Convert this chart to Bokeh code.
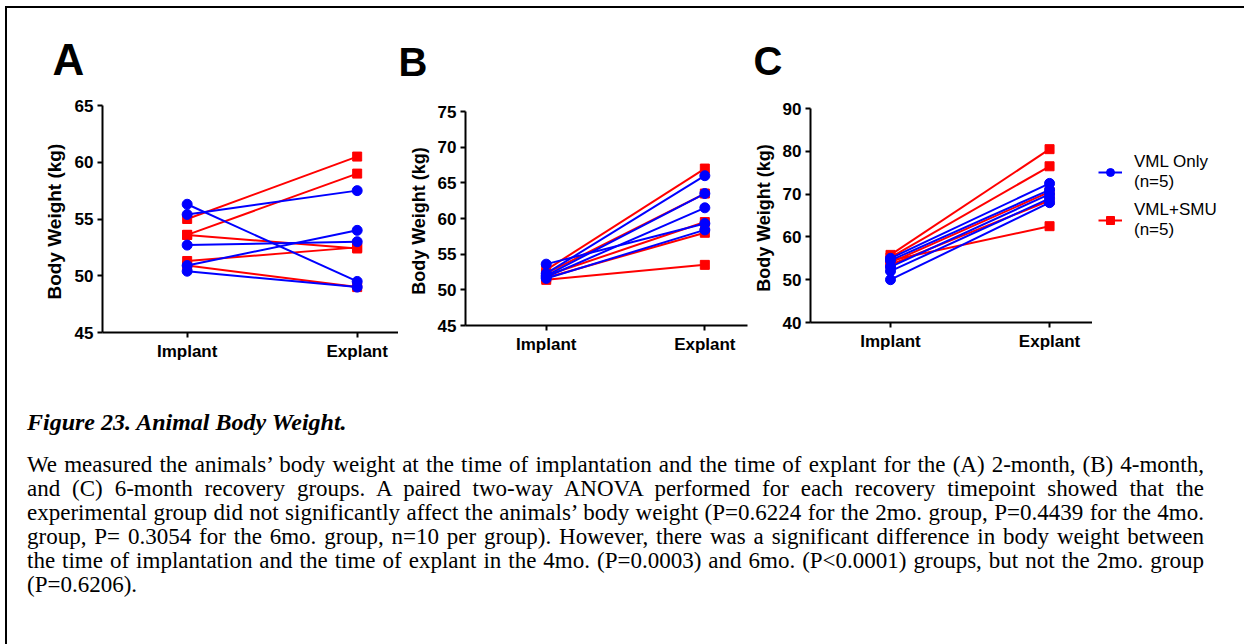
from bokeh.plotting import figure
from bokeh.layouts import row, column
from bokeh.models import (Div, FixedTicker, Range1d, Legend, LegendItem)
from bokeh.embed import file_html
from bokeh.resources import INLINE

# ---------------- data ----------------
timepoints = ["Implant", "Explant"]
group_labels = ["VML Only\n(n=5)", "VML+SMU\n(n=5)"]
panel_letters = ["A", "B", "C"]

# Panel A (2-month)
blue_impl_A = [56.3, 55.4, 52.7, 50.9, 50.4]
blue_expl_A = [49.5, 57.5, 53.0, 54.0, 49.0]
red_impl_A = [55.0, 53.6, 53.6, 51.3, 50.9]
red_expl_A = [60.5, 59.0, 52.4, 52.5, 49.0]
yticks_A = [45, 50, 55, 60, 65]

# Panel B (4-month)
blue_impl_B = [53.6, 52.3, 52.0, 51.8, 51.6]
blue_expl_B = [59.3, 66.0, 63.5, 61.5, 58.4]
red_impl_B = [52.8, 52.3, 52.0, 51.7, 51.4]
red_expl_B = [67.0, 63.5, 59.5, 58.0, 53.5]
yticks_B = [45, 50, 55, 60, 65, 70, 75]

# Panel C (6-month)
blue_impl_C = [55.0, 54.5, 53.0, 52.0, 50.0]
blue_expl_C = [72.5, 71.0, 70.0, 69.0, 68.0]
red_impl_C = [55.8, 55.2, 54.5, 54.0, 53.5]
red_expl_C = [80.5, 76.5, 62.5, 70.5, 68.5]
yticks_C = [40, 50, 60, 70, 80, 90]

caption_title = "Figure 23. Animal Body Weight."
caption_lines = [
    "We measured the animals\u2019 body weight at the time of implantation and the time of explant for the (A) 2-month, (B) 4-month,",
    "and (C) 6-month recovery groups. A paired two-way ANOVA performed for each recovery timepoint showed that the",
    "experimental group did not significantly affect the animals\u2019 body weight (P=0.6224 for the 2mo. group, P=0.4439 for the 4mo.",
    "group, P= 0.3054 for the 6mo. group, n=10 per group). However, there was a significant difference in body weight between",
    "the time of implantation and the time of explant in the 4mo. (P=0.0003) and 6mo. (P&lt;0.0001) groups, but not the 2mo. group",
    "(P=0.6206).",
]

BLUE = "#0000FF"
RED = "#FF0000"
FONT = "Liberation Sans"


def draw_groups(p, bi, be, ri, re):
    red_ml = p.multi_line(xs=[[0, 1] for _ in ri],
                          ys=[[a, b] for a, b in zip(ri, re)],
                          line_color=RED, line_width=2)
    red_sc = p.scatter(x=[0] * len(ri) + [1] * len(re), y=ri + re,
                       marker="square", size=9, color=RED)
    blue_ml = p.multi_line(xs=[[0, 1] for _ in bi],
                           ys=[[a, b] for a, b in zip(bi, be)],
                           line_color=BLUE, line_width=2)
    blue_sc = p.scatter(x=[0] * len(bi) + [1] * len(be), y=bi + be,
                        marker="circle", size=10, color=BLUE)
    return blue_ml, blue_sc, red_ml, red_sc


def make_panel(letter, letter_size, letter_offset, letter_standoff,
               bi, be, ri, re, yticks,
               width, height, mb_left, mb_right, mb_top, mb_bottom,
               xr, label_size, label_standoff):
    p = figure(width=width, height=height, output_backend="svg",
               toolbar_location=None, min_border_left=mb_left,
               min_border_right=mb_right, min_border_top=mb_top,
               min_border_bottom=mb_bottom, frame_align=False,
               x_range=Range1d(*xr), y_range=Range1d(yticks[0], yticks[-1]))
    p.outline_line_color = None
    p.xgrid.visible = False
    p.ygrid.visible = False
    p.background_fill_color = None
    p.border_fill_color = None

    p.title.text = letter
    p.title.text_font = FONT
    p.title.text_font_style = "bold"
    p.title.text_font_size = letter_size
    p.title.text_color = "#000000"
    p.title.align = "left"
    p.title.offset = letter_offset
    p.title.standoff = letter_standoff

    draw_groups(p, bi, be, ri, re)

    for ax in (p.xaxis[0], p.yaxis[0]):
        ax.axis_line_width = 2
        ax.major_tick_line_width = 2
        ax.major_tick_out = 5
        ax.major_tick_in = 0
        ax.minor_tick_line_color = None
        ax.major_label_text_font = FONT
        ax.major_label_text_font_style = "bold"
        ax.major_label_text_font_size = "17px"
        ax.major_label_text_color = "#000000"
        ax.axis_line_color = "#000000"
        ax.major_tick_line_color = "#000000"

    p.xaxis.ticker = FixedTicker(ticks=[0, 1])
    p.xaxis.major_label_overrides = {0: timepoints[0], 1: timepoints[1]}
    p.xaxis.major_label_standoff = 4

    p.yaxis.ticker = FixedTicker(ticks=yticks)
    p.yaxis.major_label_standoff = 4
    p.yaxis.axis_label = "Body  Weight (kg)"
    p.yaxis.axis_label_text_font = FONT
    p.yaxis.axis_label_text_font_style = "bold"
    p.yaxis.axis_label_text_font_size = label_size
    p.yaxis.axis_label_standoff = label_standoff
    p.yaxis.axis_label_text_color = "#000000"
    return p


pA = make_panel("A", "44px", -50, 44, blue_impl_A, blue_expl_A, red_impl_A, red_expl_A,
                yticks_A, 391, 372, 95, 0, 97, 48, (-0.498, 1.243), "19px", 7)
pB = make_panel("B", "40px", -67, 55, blue_impl_B, blue_expl_B, red_impl_B, red_expl_B,
                yticks_B, 352, 372, 67, 3, 103, 55, (-0.509, 1.269), "18px", 6)
pC = make_panel("C", "40px", -57, 51, blue_impl_C, blue_expl_C, red_impl_C, red_expl_C,
                yticks_C, 342, 372, 59, 0, 100, 58, (-0.503, 1.27), "18px", 6)

# legend area (separate canvas to the right of panel C); it carries the C
# series with an x-range that keeps them out of view, so only the legend shows
pL = figure(width=152, height=372, output_backend="svg", toolbar_location=None,
            x_axis_location=None, y_axis_location=None, frame_align=False,
            min_border_left=0, min_border_right=0, min_border_top=100,
            min_border_bottom=58,
            x_range=Range1d(5, 6), y_range=Range1d(yticks_C[0], yticks_C[-1]))
pL.outline_line_color = None
pL.xgrid.visible = False
pL.ygrid.visible = False
pL.background_fill_color = None
pL.border_fill_color = None
lb_line, lb_mark, lr_line, lr_mark = draw_groups(pL, blue_impl_C, blue_expl_C,
                                                 red_impl_C, red_expl_C)
lg = Legend(items=[LegendItem(label=group_labels[0], renderers=[lb_line, lb_mark]),
                   LegendItem(label=group_labels[1], renderers=[lr_line, lr_mark])],
            location=(6, 82), orientation="vertical",
            label_text_font=FONT, label_text_font_size="17px",
            label_text_color="#000000", label_text_line_height=1.2,
            glyph_width=24, glyph_height=20, label_standoff=12,
            spacing=8, padding=2, margin=0, border_line_color=None,
            background_fill_alpha=0)
pL.add_layout(lg)

line_html = "".join(
    '<div style="text-align:justify; text-align-last:%s; white-space:nowrap;">%s</div>'
    % ("left" if i == len(caption_lines) - 1 else "justify", t)
    for i, t in enumerate(caption_lines))
caption_html = (
    '<div style="font-family:\'Liberation Serif\',\'Times New Roman\',serif; font-size:23px; '
    'line-height:24px; color:#000; padding-left:20px; width:1197px;">'
    '<div style="margin:30px 0 19px 0; font-size:24px; font-weight:bold; font-style:italic;">%s</div>'
    '%s</div>' % (caption_title, line_html))
caption = Div(text=caption_html, width=1237, height=256, margin=0)

content = column(row(pA, pB, pC, pL), caption)
top_line = Div(text="", width=1239, height=2, margin=0, styles={"background-color": "#000000"})
left_line = Div(text="", width=2, height=636, margin=0, styles={"background-color": "#000000"})
root = column(Div(text="", width=1244, height=6, margin=0),
              row(Div(text="", width=5, height=638, margin=0),
                  column(top_line, row(left_line, content))))

open("out.html", "w").write(file_html(root, INLINE))
